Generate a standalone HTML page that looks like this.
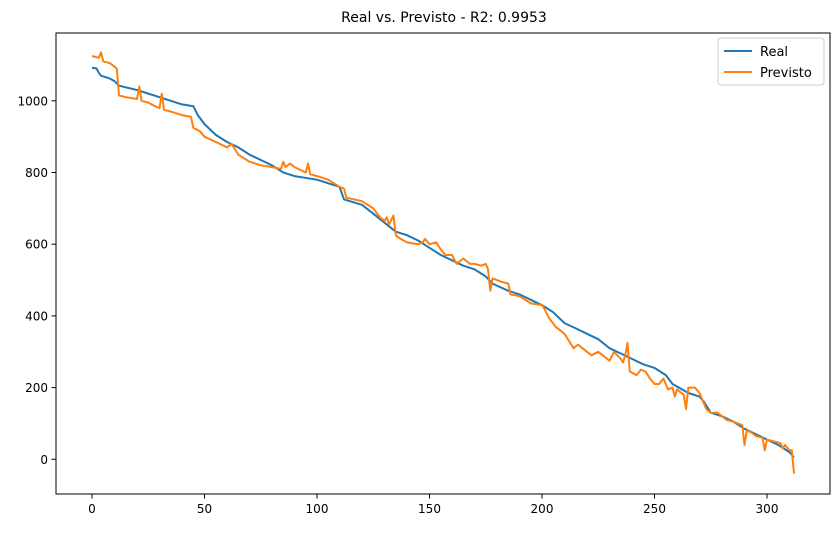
<!DOCTYPE html>
<html><head><meta charset="utf-8"><style>
body{margin:0;background:#fff;font-family:"Liberation Sans","DejaVu Sans",sans-serif}
svg text{font-family:"DejaVu Sans","Liberation Sans",sans-serif}
</style></head><body>
<svg id="c" width="839" height="528" viewBox="0 0 839 528">
<rect width="839" height="528" fill="#fff"/>
<text x="444" y="22" text-anchor="middle" font-size="14">Real vs. Previsto - R2: 0.9953</text>
<g id="axes"></g>
<g id="series"></g>
<rect x="56" y="33" width="774" height="461" fill="none" stroke="#000" stroke-width="1"/>
<g>
<rect x="718" y="38" width="106" height="47" rx="3" fill="#fff" stroke="#ccc"/>
<line x1="724" y1="51" x2="752" y2="51" stroke="#1f77b4" stroke-width="2"/>
<text x="760" y="56" font-size="13">Real</text>
<line x1="724" y1="72" x2="752" y2="72" stroke="#ff7f0e" stroke-width="2"/>
<text x="760" y="77" font-size="13">Previsto</text>
</g>
</svg>
<script>
const xTicks=[0,50,100,150,200,250,300];
const yTicks=[0,200,400,600,800,1000];
const realX=[0,2,3,4,8,10,12,20,30,40,45,47,50,55,60,65,70,75,80,85,90,100,110,112,120,125,130,135,140,145,150,155,160,165,170,175,178,185,190,195,200,205,210,215,220,225,230,235,240,245,250,255,258,265,270,272,275,280,285,290,295,300,305,310,312];
const realY=[1092,1090,1078,1070,1062,1055,1042,1030,1010,990,985,960,935,905,885,870,850,835,820,800,790,780,760,725,710,685,660,635,625,610,590,570,555,540,530,510,490,470,460,445,430,410,380,365,350,335,310,295,280,265,255,235,210,185,175,160,130,120,105,85,70,55,40,20,5];
const predX=[0,3,4,5,8,11,12,15,20,21,22,25,28,30,31,32,35,40,44,45,48,50,55,60,62,65,70,75,80,84,85,86,88,90,95,96,97,100,105,110,112,113,120,125,128,130,131,132,134,135,137,140,145,147,148,150,153,155,157,160,162,165,168,170,173,175,176,177,178,182,185,186,190,195,200,201,203,206,210,212,214,216,220,222,225,230,232,235,236,237,238,239,242,244,246,248,250,252,254,256,258,259,260,263,264,265,268,270,273,275,278,280,282,285,289,290,291,293,295,298,299,300,303,306,307,308,310,311,312];
const predY=[1125,1120,1135,1110,1105,1090,1015,1010,1005,1040,1000,995,985,980,1020,975,970,960,955,925,915,900,885,870,880,850,830,820,815,810,830,815,825,815,800,825,795,790,780,760,755,730,720,700,675,665,675,655,680,625,615,605,600,605,615,600,605,585,570,570,545,560,545,545,540,545,530,470,505,495,490,460,455,435,430,420,395,370,350,330,310,320,300,290,300,275,300,280,270,290,325,245,235,250,245,225,210,210,225,195,200,175,195,180,140,200,200,185,140,130,130,120,110,105,95,40,80,75,65,60,25,55,50,45,30,40,25,25,-40];
const NS='http://www.w3.org/2000/svg';
const xs=v=>92+v*2.25;
const ys=v=>459.3-v*0.3585;
const axes=document.getElementById('axes');
function mk(t,a,p){const e=document.createElementNS(NS,t);for(const k in a)e.setAttribute(k,a[k]);p.appendChild(e);return e;}
xTicks.forEach(t=>{
 const l=mk('line',{x1:xs(t),x2:xs(t),y1:494,y2:498.5,stroke:'#000'},axes);
 
 
 const tx=mk('text',{x:xs(t),y:513,'text-anchor':'middle','font-size':'12'},axes);tx.textContent=t;
 
 
});
yTicks.forEach(t=>{
 const l=mk('line',{x1:51.5,x2:56,y1:ys(t),y2:ys(t),stroke:'#000'},axes);
 
 
 const tx=mk('text',{x:48,y:ys(t)+4.5,'text-anchor':'end','font-size':'12'},axes);tx.textContent=t;
 
 
});
const g=document.getElementById('series');
function line(X,Y,c,n){
 const d=X.map((x,i)=>(i?'L':'M')+xs(x).toFixed(1)+','+ys(Y[i]).toFixed(1)).join('');
 const p=mk('path',{d:d,fill:'none',stroke:c,'stroke-width':'2','stroke-linejoin':'round'},g);
 
 
}
line(realX,realY,'#1f77b4','real-line');
line(predX,predY,'#ff7f0e','previsto-line');
</script>
</body></html>
